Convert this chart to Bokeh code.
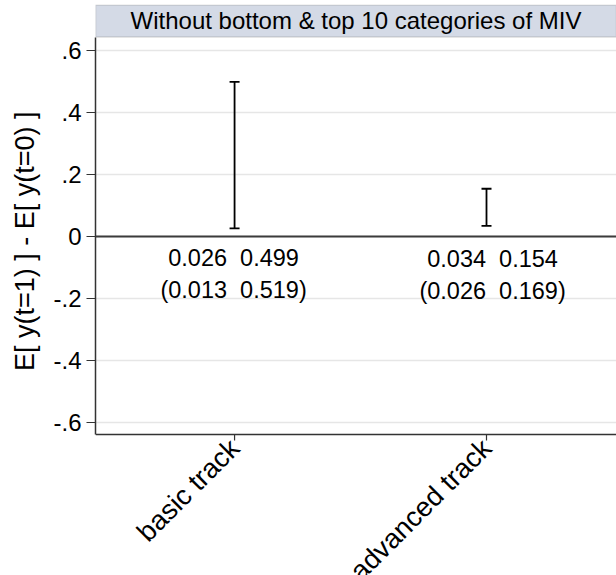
import math
from bokeh.plotting import figure
from bokeh.models import (FixedTicker, Range1d, BoxAnnotation, Span, Label,
                          Whisker, ColumnDataSource, TeeHead)
from bokeh.core.properties import value
from bokeh.embed import file_html
from bokeh.resources import INLINE

# ---- data ----
categories = ["basic track", "advanced track"]
ci_low = [0.026, 0.034]
ci_high = [0.499, 0.154]
alt_low = [0.013, 0.026]
alt_high = [0.519, 0.169]
y_ticks = [-0.6, -0.4, -0.2, 0, 0.2, 0.4, 0.6]
y_tick_labels = ["-.6", "-.4", "-.2", "0", ".2", ".4", ".6"]
panel_title = "Without bottom & top 10 categories of MIV"
y_label = "E[ y(t=1) ] - E[ y(t=0) ]"

# ---- layout constants (pixel geometry converted to data units) ----
FONT = "Liberation Sans"
X_START, X_END = 0.448, 2.516
PX = 1 / 310.0                    # data units per pixel (y)
Y_AXIS = -198 * PX                # level of the bottom axis line
Y_START = -339 * PX               # frame runs to the page bottom
Y_END = 232 * PX
STRIP_BOTTOM = 199.5 * PX
STRIP_TOP = 231.5 * PX
TITLE_Y = 216 * PX
TICK_LEN = 6 * PX
XLABEL_Y = Y_AXIS - 9 * PX
label_dx = [-0.004, 0.024]
line1_y = [-0.068, -0.074]
line2_y = [-0.174, -0.177]
GAP = "\u00a0\u00a0"
YLABEL_PAD = "\u00a0" * 13        # lifts the axis title to the centre of the axis span

xs = [i + 1 for i in range(len(categories))]

p = figure(width=616, height=575, output_backend="svg", toolbar_location=None,
           x_range=Range1d(X_START, X_END), y_range=Range1d(Y_START, Y_END),
           min_border_left=95, min_border_right=0, min_border_top=4,
           min_border_bottom=0)
p.outline_line_color = None
p.background_fill_color = "white"
p.border_fill_color = "white"

# strip title
strip = BoxAnnotation(left=X_START, right=X_END, bottom=STRIP_BOTTOM, top=STRIP_TOP,
                      fill_color="#d4dae6", fill_alpha=1.0,
                      line_color="#8f8f8f", line_width=1.5)
p.add_layout(strip)
p.add_layout(Label(x=(X_START + X_END) / 2, y=TITLE_Y, text=panel_title,
                   text_align="center", text_baseline="middle",
                   text_font=FONT, text_font_size="24px", text_color="black"))

# grid
p.xgrid.grid_line_color = None
p.ygrid.ticker = FixedTicker(ticks=y_ticks)
p.ygrid.grid_line_color = "#e6e6e6"
p.ygrid.grid_line_width = 1.5

# zero line
p.add_layout(Span(location=0, dimension="width", line_color="#3c3c3c", line_width=1.8))

# error bars
src = ColumnDataSource(dict(x=xs, lo=ci_low, hi=ci_high))
wh = Whisker(base="x", lower="lo", upper="hi", source=src, dimension="height",
             line_color="black", line_width=1.8,
             upper_head=TeeHead(size=10, line_color="black", line_width=1.8),
             lower_head=TeeHead(size=10, line_color="black", line_width=1.8))
p.add_layout(wh)

# text labels
t1 = [f"{a:.3f}{GAP}{b:.3f}" for a, b in zip(ci_low, ci_high)]
t2 = [f"({a:.3f}{GAP}{b:.3f})" for a, b in zip(alt_low, alt_high)]
tx = [x + d for x, d in zip(xs, label_dx)]
p.text(x=tx, y=line1_y, text=t1, text_align="center", text_baseline="middle",
       text_font=value(FONT), text_font_size="23.5px", text_color="black")
p.text(x=tx, y=line2_y, text=t2, text_align="center", text_baseline="middle",
       text_font=value(FONT), text_font_size="23.5px", text_color="black")

# y axis
p.yaxis.ticker = FixedTicker(ticks=y_ticks)
p.yaxis.major_label_overrides = {t: l for t, l in zip(y_ticks, y_tick_labels)}
p.yaxis.bounds = (Y_AXIS, STRIP_BOTTOM)
p.yaxis.axis_label = YLABEL_PAD + y_label
p.yaxis.axis_label_text_font = FONT
p.yaxis.axis_label_text_font_style = "normal"
p.yaxis.axis_label_text_font_size = "27px"
p.yaxis.axis_label_text_color = "black"
p.yaxis.axis_label_standoff = 10
p.yaxis.major_label_text_font = FONT
p.yaxis.major_label_text_font_size = "24px"
p.yaxis.major_label_text_color = "black"
p.yaxis.major_label_orientation = "horizontal"
p.yaxis.major_label_standoff = 5
p.yaxis.major_tick_out = 9
p.yaxis.major_tick_in = 0
p.yaxis.minor_tick_line_color = None
p.yaxis.axis_line_color = "#333333"
p.yaxis.axis_line_width = 1.5
p.yaxis.major_tick_line_color = "#333333"
p.yaxis.major_tick_line_width = 1.2

# x axis drawn inside the (extended) frame so rotated labels may run off the page
p.xaxis.visible = False
p.add_layout(Span(location=Y_AXIS, dimension="width", line_color="#333333", line_width=1.5))
p.segment(x0=xs, y0=[Y_AXIS] * len(xs), x1=xs, y1=[Y_AXIS - TICK_LEN] * len(xs),
          line_color="#333333", line_width=1.2)
for x, c in zip(xs, categories):
    p.add_layout(Label(x=x, y=XLABEL_Y, text=c, angle=math.pi / 4,
                       text_align="right", text_baseline="middle",
                       text_font=FONT, text_font_size="27.5px", text_color="black"))

open("out.html", "w").write(file_html(p, INLINE))
